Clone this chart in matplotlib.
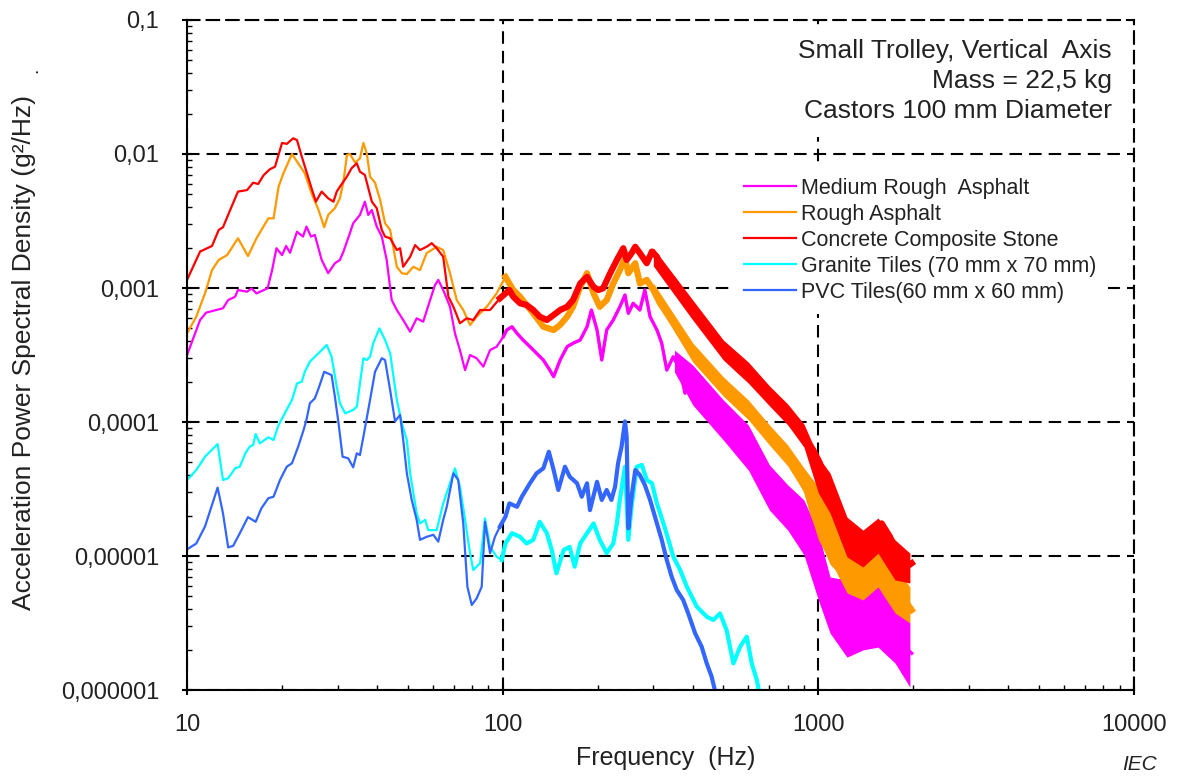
import matplotlib
matplotlib.use('Agg')
import matplotlib.pyplot as plt
import numpy as np
from matplotlib.ticker import LogLocator, NullFormatter

# ---- data (Hz, g^2/Hz) ----
labels = ['Medium Rough  Asphalt', 'Rough Asphalt', 'Concrete Composite Stone',
          'Granite Tiles (70 mm x 70 mm)', 'PVC Tiles(60 mm x 60 mm)']
colors = ['#FF00FF', '#FF9900', '#FF0000', '#00FFFF', '#3366FF']

x_ticks = [10, 100, 1000, 10000]
x_tick_labels = ['10', '100', '1000', '10000']
y_ticks = [1e-6, 1e-5, 1e-4, 1e-3, 1e-2, 1e-1]
y_tick_labels = ['0,000001', '0,00001', '0,0001', '0,001', '0,01', '0,1']

f_medium = [10.0, 11.0, 11.5, 13.0, 13.5, 14.2, 14.5, 15.5, 16.0, 16.6, 18.0, 18.6, 19.2, 20.0,
            20.6, 21.2, 22.3, 23.3, 23.9, 24.7, 25.4, 26.7, 28.0, 29.4, 30.5, 31.3, 32.8, 33.6,
            35.3, 36.6, 37.5, 38.5, 39.9, 41.4, 42.9, 44.5, 46.2, 48.4, 50.9, 53.4, 56.0, 58.9,
            61.0, 62.5, 64.8, 68.1, 70.6, 73.2, 76.0, 78.8, 82.7, 86.8, 91.2, 95.7, 100.5, 103,
            107, 111, 116, 122, 128, 134.5, 141, 145, 152, 160, 167, 176, 185, 191, 199, 206,
            213.5, 224, 235, 244, 250, 259, 272, 282, 293, 308, 319, 331, 347, 365, 378, 392,
            412, 427, 443, 465, 488, 512, 538, 565, 593, 622, 653, 686, 720, 774, 813, 874,
            918, 963, 1036, 1115, 1200, 1290, 1388, 1493, 1587, 1686, 1814, 1976]
psd_medium = [3.16e-4, 5.77e-4, 6.55e-4, 7.06e-4, 8.13e-4, 8.61e-4, 9.66e-4, 9.38e-4, 9.95e-4,
              9.12e-4, 9.95e-4, 1.36e-3, 1.98e-3, 1.76e-3, 2.06e-3, 1.83e-3, 2.63e-3, 2.42e-3,
              2.87e-3, 2.42e-3, 2.49e-3, 1.62e-3, 1.29e-3, 1.53e-3, 1.62e-3, 1.87e-3, 2.56e-3,
              3.04e-3, 3.51e-3, 4.41e-3, 3.51e-3, 3.82e-3, 2.87e-3, 2.42e-3, 1.62e-3, 8.13e-4,
              6.85e-4, 5.77e-4, 4.72e-4, 5.94e-4, 5.61e-4, 8.13e-4, 1.05e-3, 1.15e-3, 9.66e-4,
              7.24e-4, 4.59e-4, 3.44e-4, 2.44e-4, 3.16e-4, 2.99e-4, 2.59e-4, 3.44e-4, 3.65e-4,
              4.33e-4, 4.86e-4, 5.14e-4, 4.59e-4, 4.09e-4, 3.65e-4, 3.26e-4, 2.90e-4, 2.44e-4,
              2.18e-4, 2.90e-4, 3.65e-4, 3.87e-4, 4.09e-4, 5.14e-4, 6.85e-4, 4.86e-4, 2.90e-4,
              4.86e-4, 5.77e-4, 7.24e-4, 8.87e-4, 6.47e-4, 7.69e-4, 6.85e-4, 9.66e-4, 6.11e-4,
              4.86e-4, 3.87e-4, 2.44e-4, 3.07e-4, 2.44e-4, 1.64e-4, 2.44e-4, 2.31e-4, 1.46e-4,
              1.84e-4, 1.23e-4, 8.71e-5, 1.10e-4, 7.76e-5, 9.23e-5, 6.93e-5, 5.51e-5, 4.38e-5,
              3.29e-5, 3.11e-5, 2.62e-5, 2.87e-5, 1.66e-5, 1.86e-5, 9.33e-6, 4.70e-6, 3.52e-6,
              3.73e-6, 2.97e-6, 3.33e-6, 4.19e-6, 4.70e-6, 3.33e-6, 2.23e-6, 1.88e-6]

f_rough = [10.0, 10.7, 11.4, 12.0, 12.6, 13.4, 14.5, 15.6, 16.6, 17.2, 18.1, 18.8, 19.5, 20.2,
           21.5, 22.5, 23.6, 24.8, 26.1, 27.2, 28.0, 29.4, 30.5, 31.3, 32.1, 32.8, 34.1, 35.3,
           36.2, 37.1, 38.0, 39.4, 40.9, 42.4, 44.0, 46.2, 47.9, 49.7, 52.1, 54.7, 57.4, 61.8,
           64.8, 68.1, 71.5, 75.0, 78.8, 82.7, 89.0, 95.7, 102, 108, 113.5, 119, 125, 134.5,
           145, 152, 160, 167, 176, 185, 194, 203, 213.5, 224, 235, 244, 250, 263, 272, 286,
           300, 315, 331, 347, 365, 383, 402, 422, 443, 465, 488, 512, 538, 565, 593, 622, 653,
           686, 720, 756, 794, 833, 874, 918, 963, 1036, 1115, 1200, 1290, 1388, 1493, 1587,
           1686, 1814, 1976]
psd_rough = [4.59e-4, 6.11e-4, 9.12e-4, 1.36e-3, 1.62e-3, 1.76e-3, 2.35e-3, 1.73e-3, 2.35e-3,
             2.71e-3, 3.31e-3, 3.31e-3, 5.70e-3, 7.18e-3, 1.00e-2, 8.52e-3, 7.18e-3, 5.09e-3,
             3.82e-3, 2.84e-3, 3.51e-3, 3.94e-3, 4.67e-3, 6.21e-3, 9.83e-3, 1.00e-2, 8.61e-3,
             9.29e-3, 1.21e-2, 1.01e-2, 6.78e-3, 6.11e-3, 4.54e-3, 3.04e-3, 2.71e-3, 1.44e-3,
             1.29e-3, 1.27e-3, 1.44e-3, 1.36e-3, 1.82e-3, 2.03e-3, 1.92e-3, 1.29e-3, 8.13e-4,
             6.85e-4, 5.30e-4, 6.11e-4, 7.24e-4, 9.12e-4, 1.21e-3, 9.66e-4, 8.61e-4, 7.47e-4,
             6.47e-4, 5.14e-4, 4.86e-4, 5.30e-4, 6.11e-4, 7.24e-4, 1.02e-3, 1.29e-3, 9.12e-4,
             7.24e-4, 8.13e-4, 1.08e-3, 1.36e-3, 1.67e-3, 1.29e-3, 1.53e-3, 1.08e-3, 1.15e-3,
             9.66e-4, 7.69e-4, 6.47e-4, 5.46e-4, 4.59e-4, 3.87e-4, 3.26e-4, 2.90e-4, 2.59e-4,
             2.18e-4, 1.94e-4, 1.73e-4, 1.55e-4, 1.38e-4, 1.30e-4, 1.16e-4, 9.77e-5, 8.24e-5,
             7.34e-5, 6.55e-5, 5.84e-5, 5.20e-5, 3.82e-5, 3.10e-5, 2.08e-5, 1.32e-5, 8.83e-6,
             7.43e-6, 6.62e-6, 5.90e-6, 6.62e-6, 8.32e-6, 7.01e-6, 5.26e-6, 3.95e-6]

f_concrete = [10.0, 11.0, 12.0, 12.6, 13.0, 13.7, 14.5, 15.5, 16.2, 16.8, 17.5, 18.3, 19.0, 20.0,
              20.7, 21.7, 22.3, 23.1, 23.9, 24.8, 25.6, 26.7, 28.0, 29.1, 29.8, 30.5, 32.1, 33.2,
              34.5, 35.3, 36.6, 38.5, 39.9, 41.4, 42.4, 44.0, 46.2, 47.3, 48.4, 50.9, 52.8, 54.7,
              57.4, 59.6, 61.8, 64.8, 67.3, 69.8, 73.2, 76.9, 80.7, 84.8, 91.2, 98.0, 105, 108,
              113.5, 119, 125, 131, 138, 145, 152, 160, 167, 176, 185, 194, 201, 208, 219, 230,
              241, 247, 256, 263, 272, 286, 297, 308, 319, 331, 347, 365, 383, 402, 422, 443, 465,
              488, 512, 538, 565, 593, 622, 653, 686, 720, 756, 794, 833, 874, 918, 963, 1012,
              1036, 1115, 1200, 1290, 1388, 1493, 1587, 1686, 1814, 1905, 1976]
psd_concrete = [1.15e-3, 1.87e-3, 2.06e-3, 2.71e-3, 2.84e-3, 3.82e-3, 5.24e-3, 5.38e-3, 6.11e-3,
                5.97e-3, 6.97e-3, 7.69e-3, 8.04e-3, 1.21e-2, 1.19e-2, 1.31e-2, 1.27e-2, 9.55e-3,
                7.38e-3, 5.55e-3, 4.41e-3, 5.24e-3, 4.67e-3, 4.41e-3, 5.24e-3, 5.70e-3, 6.78e-3,
                7.82e-3, 8.52e-3, 7.38e-3, 6.97e-3, 4.41e-3, 3.94e-3, 2.71e-3, 2.42e-3, 2.35e-3,
                1.92e-3, 1.98e-3, 1.44e-3, 1.71e-3, 2.09e-3, 1.92e-3, 2.03e-3, 2.16e-3, 1.98e-3,
                1.71e-3, 8.61e-4, 7.24e-4, 5.46e-4, 5.94e-4, 5.77e-4, 6.85e-4, 6.85e-4, 8.38e-4,
                9.66e-4, 8.61e-4, 7.69e-4, 7.47e-4, 6.85e-4, 6.11e-4, 5.77e-4, 6.29e-4, 6.85e-4,
                7.24e-4, 8.13e-4, 1.08e-3, 1.21e-3, 1.02e-3, 9.66e-4, 9.95e-4, 1.29e-3, 1.62e-3,
                1.98e-3, 1.62e-3, 1.82e-3, 2.03e-3, 1.82e-3, 1.53e-3, 1.87e-3, 1.71e-3, 1.36e-3,
                1.29e-3, 1.15e-3, 9.66e-4, 8.13e-4, 6.65e-4, 5.77e-4, 5.14e-4, 4.59e-4, 3.87e-4,
                3.07e-4, 2.74e-4, 2.59e-4, 2.44e-4, 2.18e-4, 1.84e-4, 1.64e-4, 1.46e-4, 1.30e-4,
                1.19e-4, 1.04e-4, 8.71e-5, 7.34e-5, 6.18e-5, 4.92e-5, 3.60e-5, 2.33e-5, 1.66e-5,
                1.32e-5, 1.39e-5, 1.48e-5, 1.75e-5, 1.39e-5, 9.33e-6, 8.32e-6, 8.83e-6]

f_granite = [10.0, 10.7, 11.4, 12.5, 13.0, 13.5, 14.2, 14.7, 15.3, 15.8, 16.2, 16.5, 17.0, 18.1,
             18.8, 19.5, 20.4, 21.5, 22.3, 23.1, 23.6, 24.5, 25.4, 26.4, 27.7, 28.7, 29.8, 30.5,
             31.7, 33.6, 34.5, 35.3, 36.2, 37.1, 38.0, 38.9, 40.7, 42.4, 44.0, 46.2, 47.9, 49.7,
             50.9, 53.4, 54.7, 56.8, 58.1, 61.8, 64.8, 68.1, 70.6, 73.2, 76.0, 78.8, 80.7, 84.8,
             87.9, 91.2, 95.7, 99.3, 102, 107, 113.5, 119, 125, 131, 138, 143, 148, 156, 163,
             169, 176, 185, 194, 203, 213.5, 224, 230, 235, 244, 250, 256, 266, 276, 286, 297,
             308, 323, 335, 347, 365, 383, 412, 443, 465, 488, 512, 538, 565, 593, 615, 638, 660]
psd_granite = [3.69e-5, 4.38e-5, 5.51e-5, 6.85e-5, 3.69e-5, 3.80e-5, 4.51e-5, 4.64e-5, 5.84e-5,
               6.55e-5, 6.73e-5, 8.13e-5, 6.93e-5, 7.69e-5, 7.34e-5, 9.50e-5, 1.16e-4, 1.46e-4,
               1.94e-4, 2.00e-4, 2.37e-4, 2.82e-4, 3.07e-4, 3.35e-4, 3.76e-4, 3.07e-4, 1.84e-4,
               1.38e-4, 1.16e-4, 1.23e-4, 1.30e-4, 1.94e-4, 2.99e-4, 2.90e-4, 3.07e-4, 3.87e-4,
               5.00e-4, 4.09e-4, 3.26e-4, 1.46e-4, 9.77e-5, 7.34e-5, 4.14e-5, 2.08e-5, 1.75e-5,
               1.86e-5, 1.56e-5, 1.56e-5, 2.47e-5, 3.49e-5, 4.51e-5, 3.29e-5, 1.86e-5, 1.05e-5,
               7.86e-6, 8.83e-6, 1.91e-5, 1.17e-5, 9.89e-6, 9.33e-6, 1.24e-5, 1.48e-5, 1.39e-5,
               1.24e-5, 1.32e-5, 1.80e-5, 1.48e-5, 1.11e-5, 7.43e-6, 1.11e-5, 1.17e-5, 8.32e-6,
               1.24e-5, 1.48e-5, 1.75e-5, 1.32e-5, 1.05e-5, 1.24e-5, 1.75e-5, 2.62e-5, 4.64e-5,
               1.32e-5, 2.33e-5, 4.64e-5, 4.78e-5, 3.69e-5, 3.49e-5, 2.47e-5, 1.75e-5, 1.32e-5,
               9.89e-6, 7.86e-6, 5.90e-6, 4.19e-6, 3.52e-6, 3.33e-6, 3.73e-6, 2.80e-6, 1.58e-6,
               2.10e-6, 2.50e-6, 1.58e-6, 1.19e-6, 8.0e-7]

f_pvc = [10.0, 10.7, 11.4, 12.5, 13.0, 13.5, 14.0, 14.7, 15.6, 16.5, 17.2, 18.1, 18.8, 19.7,
         20.7, 21.5, 22.5, 23.4, 23.9, 24.5, 25.4, 26.1, 27.2, 28.7, 29.4, 30.2, 31.1, 32.4,
         33.6, 34.5, 35.3, 36.2, 37.1, 38.0, 39.4, 41.4, 42.4, 44.0, 45.6, 47.3, 48.4, 49.7,
         51.5, 53.4, 54.7, 57.4, 60.3, 62.5, 64.8, 66.5, 69.8, 72.3, 75.0, 77.3, 79.8, 82.7,
         85.8, 87.9, 91.2, 94.5, 98.0, 102, 105, 111, 115, 122, 128, 134.5, 140, 145, 150,
         157.5, 163, 172, 178, 185, 189, 199, 206, 213.5, 221, 227, 232, 238, 244, 247, 250,
         256, 263, 272, 282, 293, 308, 319, 331, 343, 356, 373, 387, 407, 427, 443, 459, 470,
         485]
psd_pvc = [1.12e-5, 1.24e-5, 1.66e-5, 3.24e-5, 2.08e-5, 1.16e-5, 1.19e-5, 1.48e-5, 1.95e-5,
           1.80e-5, 2.27e-5, 2.70e-5, 2.77e-5, 3.69e-5, 4.64e-5, 4.92e-5, 6.55e-5, 8.71e-5,
           1.04e-4, 1.38e-4, 1.50e-4, 1.78e-4, 2.37e-4, 2.24e-4, 1.55e-4, 9.77e-5, 5.51e-5,
           5.36e-5, 4.59e-5, 5.84e-5, 5.67e-5, 7.76e-5, 1.07e-4, 1.46e-4, 2.37e-4, 2.99e-4,
           2.90e-4, 1.73e-4, 1.01e-4, 1.13e-4, 7.34e-5, 4.14e-5, 2.62e-5, 1.86e-5, 1.32e-5,
           1.39e-5, 1.44e-5, 1.28e-5, 1.86e-5, 2.33e-5, 4.14e-5, 3.69e-5, 1.75e-5, 5.90e-6,
           4.31e-6, 4.83e-6, 5.90e-6, 1.80e-5, 1.05e-5, 1.39e-5, 1.66e-5, 1.96e-5, 2.47e-5,
           2.33e-5, 2.77e-5, 3.49e-5, 4.14e-5, 4.51e-5, 6.00e-5, 4.38e-5, 3.11e-5, 4.64e-5,
           3.91e-5, 3.49e-5, 2.77e-5, 3.49e-5, 2.20e-5, 3.58e-5, 2.62e-5, 3.11e-5, 2.62e-5,
           3.29e-5, 4.92e-5, 6.55e-5, 1.01e-4, 7.76e-5, 1.61e-5, 2.77e-5, 4.38e-5, 4.02e-5,
           3.39e-5, 2.62e-5, 1.75e-5, 1.32e-5, 9.33e-6, 7.01e-6, 5.57e-6, 4.70e-6, 3.73e-6,
           2.65e-6, 2.10e-6, 1.58e-6, 1.26e-6, 1.00e-6, 8.0e-7]

# lower / upper edge of the noisy high-frequency part of the three road traces
band_f = [300, 400, 500, 600, 700, 800, 900, 1000, 1089, 1232, 1384, 1545, 1749, 1950]
concrete_lo = [1.46e-3, 5.77e-4, 2.90e-4, 1.95e-4, 1.32e-4, 9.50e-5, 6.50e-5, 2.95e-5, 2.09e-5,
               9.84e-6, 8.28e-6, 1.05e-5, 6.62e-6, 6.29e-6]
concrete_hi = [1.99e-3, 8.13e-4, 4.09e-4, 2.80e-4, 1.86e-4, 1.36e-4, 9.66e-5, 5.48e-5, 4.16e-5,
               1.95e-5, 1.56e-5, 1.92e-5, 1.32e-5, 1.05e-5]
rough_lo = [8.57e-4, 2.80e-4, 1.56e-4, 1.04e-4, 6.73e-5, 4.7e-5, 3.0e-5, 1.32e-5, 9.33e-6,
            5.30e-6, 4.70e-6, 5.87e-6, 3.76e-6, 3.16e-6]
rough_hi = [1.09e-3, 3.89e-4, 2.17e-4, 1.46e-4, 9.5e-5, 6.73e-5, 4.54e-5, 3.27e-5, 2.62e-5,
            1.17e-5, 9.84e-6, 1.25e-5, 8.28e-6, 5.87e-6]
band_f_medium = [350, 400, 500, 600, 700, 800, 900, 1000, 1089, 1232, 1384, 1545, 1749, 1950]
medium_lo = [2.36e-4, 1.34e-4, 7.34e-5, 4.38e-5, 2.20e-5, 1.56e-5, 1.02e-5, 4.70e-6, 2.66e-6,
             1.76e-6, 1.99e-6, 2.09e-6, 1.59e-6, 1.05e-6]
medium_hi = [3.44e-4, 2.66e-4, 1.46e-4, 9.5e-5, 4.78e-5, 3.39e-5, 2.62e-5, 1.49e-5, 6.97e-6,
             6.62e-6, 5.87e-6, 6.29e-6, 4.70e-6, 3.16e-6]

plt.rcParams['font.family'] = ['Liberation Sans', 'DejaVu Sans']
txt = '#222222'

fig = plt.figure(figsize=(11.77, 7.78), dpi=100)
ax = fig.add_axes([0.1589, 0.1131, 0.8046, 0.8612])

freqs = [f_medium, f_rough, f_concrete, f_granite, f_pvc]
psds = [psd_medium, psd_rough, psd_concrete, psd_granite, psd_pvc]
noisy_lw = [2.4, 4.5, 4.5, 3.0, 3.0]   # traces get fuzzier above ~100 Hz

handles = []
for i, (f, p) in enumerate(zip(freqs, psds)):
    f = np.array(f)
    p = np.array(p)
    z = 2 + i * 0.05
    line, = ax.plot(f, p, color=colors[i], lw=1.6, label=labels[i], zorder=z)
    handles.append(line)
    m = f >= 98
    ax.plot(f[m], p[m], color=colors[i], lw=noisy_lw[i], zorder=z)

ax.fill_between(band_f_medium, medium_lo, medium_hi, color=colors[0], lw=0, zorder=2.0)
ax.fill_between(band_f, rough_lo, rough_hi, color=colors[1], lw=0, zorder=2.05)
ax.fill_between(band_f, concrete_lo, concrete_hi, color=colors[2], lw=0, zorder=2.1)

ax.set_xscale('log')
ax.set_yscale('log')
ax.set_xlim(10, 10000)
ax.set_ylim(1e-6, 0.1)

ax.set_xticks(x_ticks, x_tick_labels)
ax.set_yticks(y_ticks, y_tick_labels)
ax.xaxis.set_minor_locator(LogLocator(base=10, subs=np.arange(2, 10)))
ax.yaxis.set_minor_locator(LogLocator(base=10, subs=np.arange(2, 10)))
ax.xaxis.set_minor_formatter(NullFormatter())
ax.yaxis.set_minor_formatter(NullFormatter())

ax.tick_params(which='major', direction='inout', length=7, width=1.5, labelsize=17,
               colors='black', labelcolor=txt)
ax.tick_params(axis='x', which='major', pad=14)
ax.tick_params(axis='y', which='major', pad=16.5)
ax.tick_params(which='minor', direction='in', length=3.5, width=1.0)

dash = (0, (6, 3.4))
ax.grid(True, which='major', color='black', linestyle=dash, linewidth=1.5)
for side in ['left', 'bottom']:
    ax.spines[side].set_linewidth(1.5)
for side in ['top', 'right']:
    ax.spines[side].set_linestyle(dash)
    ax.spines[side].set_linewidth(1.5)

ax.set_xlabel('Frequency  (Hz)', fontsize=18, color=txt)
ax.xaxis.set_label_coords(0.5058, -0.084)
fig.text(24 / 1177, 1 - 352 / 778, 'Acceleration Power Spectral Density (g²/Hz)', rotation=90,
         ha='center', va='center', fontsize=19, color=txt)
fig.text(33 / 1177, 1 - 70 / 778, '.', rotation=90, ha='center', va='center', fontsize=14,
         color=txt)

leg = ax.legend(handles=handles, loc='upper left', bbox_to_anchor=(732 / 1177, 1 - 166 / 778),
                bbox_transform=fig.transFigure, fontsize=15.5, frameon=True, fancybox=False,
                facecolor='white', edgecolor='none', framealpha=1, borderpad=0.55,
                handlelength=2.41, handletextpad=0.23, labelspacing=0.23, borderaxespad=0)
leg.set_zorder(2.45)
for t in leg.get_texts():
    t.set_color(txt)

fig.text(1112 / 1177, 1 - 81 / 778, 'Small Trolley, Vertical  Axis\nMass = 22,5 kg\nCastors 100 mm Diameter',
         ha='right', va='center', multialignment='right', fontsize=19, linespacing=1.3,
         color=txt, zorder=2.45, bbox=dict(facecolor='white', edgecolor='none', pad=10))

fig.text(1140 / 1177, 1 - 765 / 778, 'IEC', style='italic', ha='center', va='center',
         fontsize=15, color=txt)

plt.savefig('out.png', dpi=100)
